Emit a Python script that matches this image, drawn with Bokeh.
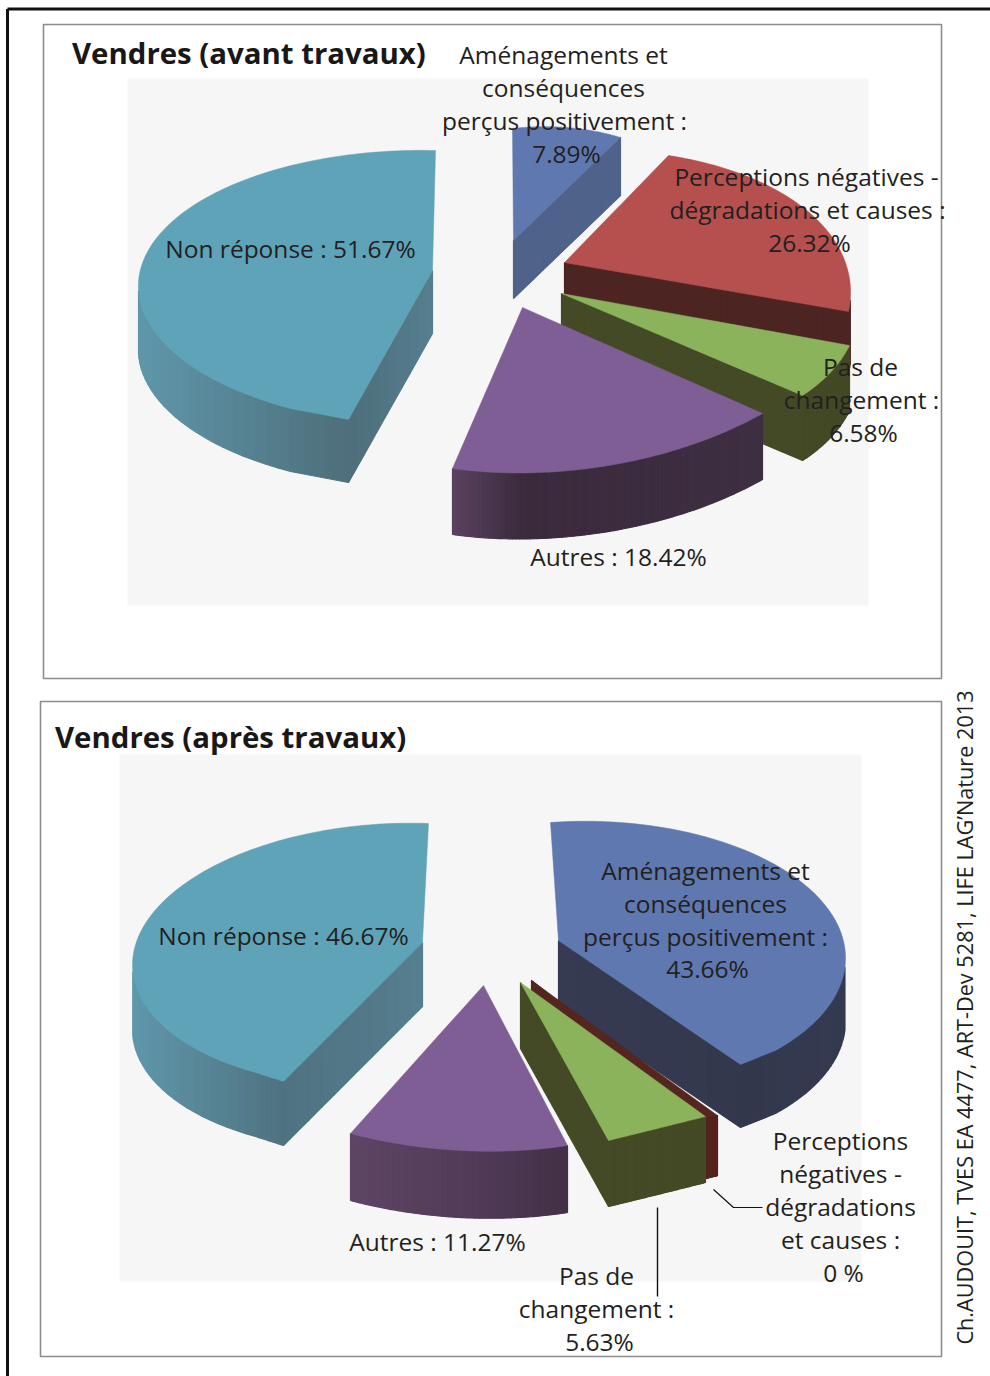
import numpy as np
from bokeh.plotting import figure
from bokeh.models import Range1d, ColumnDataSource
from bokeh.core.properties import value
from bokeh.embed import file_html
from bokeh.resources import INLINE

# ---- data -------------------------------------------------------------
categories = ["Aménagements", "Perceptions négatives", "Pas de changement", "Autres", "Non réponse"]
avant_values = [7.89, 26.32, 6.58, 18.42, 51.67]
apres_values = [43.66, 0.0, 5.63, 11.27, 46.67]
avant_title = "Vendres (avant travaux)"
apres_title = "Vendres (après travaux)"
credit = "Ch.AUDOUIT, TVES EA 4477, ART-Dev 5281, LIFE LAG’Nature 2013"

# ---- styles / layout --------------------------------------------------
FONT = "Open Sans"
TXT = "#231F20"
MIN_SWEEP_PCT = 0.45
TOP = ["#5F78AF", "#B5504E", "#8BB35B", "#7F5E96", "#5FA3B8"]
WALL_A = [("#4F6289", "#4F6289", "#4F6289"), ("#4C2522", "#4C2522", "#4C2522"),
          ("#434A25", "#434A25", "#434A25"), ("#5A4260", "#3A2A3C", "#3E2F42"),
          ("#5F97AA", "#4E6E7A", "#567F90")]
WALL_B = [("#363B52", "#33384D", "#343A50"), ("#54261F", "#54261F", "#54261F"),
          ("#454A26", "#454A26", "#454A26"), ("#5E4565", "#503A57", "#433046"),
          ("#5F97AA", "#4F7280", "#567F90")]
# placement of each slice on the page:
# apex, arc start, arc guide points, arc end, wall height, clip corner before arc, clip corner after arc
PLACE_A = [((513, 240), (512, 128), [(566, 127)], (620, 137), 58, None, None),
           ((564, 262), (668, 155), [(800, 205)], (848, 311), 62, None, None),
           ((561, 293), (849, 345), [(830, 372)], (802, 395), 65, None, None),
           ((522, 307), (762, 413), [(608, 465)], (452, 468), 66, None, None),
           ((348, 419), (290, 408), [(138, 290), (295, 164)], (435, 150), 63, None, (432, 270))]
PLACE_B = [((740, 1064), (550, 822), [(700, 835), (845, 958)], (775, 1050), 63, (558, 940), None),
           ((531, 980), (717, 1115), [], (705, 1118), 60, None, None),
           ((520, 982), (705, 1116), [(657, 1128)], (608, 1140), 66, None, None),
           ((483, 985), (567, 1145), [(460, 1150)], (350, 1133), 67, None, None),
           ((283, 1081), (255, 1072), [(132, 966), (295, 836)], (428, 823), 64, None, (422, 942))]
ARC_F = (0.27, 0.73)


def hex2rgb(c):
    return np.array([int(c[i:i + 2], 16) for i in (1, 3, 5)], float)


def mix(a, b, t):
    v = hex2rgb(a) * (1 - t) + hex2rgb(b) * t
    return "#%02X%02X%02X" % tuple(int(round(q)) for q in v)


def mapper(src, dst):
    if len(src) == 3:  # affine: apex + two rim points
        s = np.array(src, float)
        d = np.array(dst, float)
        M = np.linalg.solve((s[1:] - s[0]), (d[1:] - d[0]))
        return lambda pts: d[0] + (np.asarray(pts) - s[0]) @ M
    A, b = [], []
    for (x, y), (u, v) in zip(src, dst):
        A.append([x, y, 1, 0, 0, 0, -u * x, -u * y])
        A.append([0, 0, 0, x, y, 1, -v * x, -v * y])
        b += [u, v]
    h = np.append(np.linalg.solve(np.array(A, float), np.array(b, float)), 1).reshape(3, 3)

    def f(pts):
        pts = np.asarray(pts)
        q = np.c_[pts, np.ones(len(pts))] @ h.T
        return q[:, :2] / q[:, 2:]
    return f


def seg(a, b, n=12):
    tt = np.linspace(0, 1, n)[1:, None]
    return np.asarray(a, float) * (1 - tt) + np.asarray(b, float) * tt


def pie(values, place, walls):
    vis = [max(v, MIN_SWEEP_PCT) for v in values]
    cum = np.cumsum([0] + vis) / sum(vis) * 2 * np.pi
    for i, (apex, st, guides, en, depth, pre, post) in enumerate(place):
        a0, a1 = cum[i], cum[i + 1]
        rim = lambda a: (np.cos(a), np.sin(a))
        if len(guides) == 0:
            f = mapper([(0, 0), rim(a0), rim(a1)], [apex, st, en])
        elif len(guides) == 1:
            f = mapper([(0, 0), rim(a0), rim((a0 + a1) / 2), rim(a1)], [apex, st, guides[0], en])
        else:
            f = mapper([rim(a0), rim(a0 + (a1 - a0) * ARC_F[0]), rim(a0 + (a1 - a0) * ARC_F[1]), rim(a1)],
                       [st, guides[0], guides[1], en])
        th = np.linspace(a0, a1, 90)
        arc = f(np.c_[np.cos(th), np.sin(th)])
        pieces = [arc]
        last = arc[-1]
        if post is not None:
            pieces.append(seg(last, post, 3))
            last = np.array(post, float)
        pieces.append(seg(last, apex))
        first = np.array(pre if pre is not None else arc[0], float)
        pieces.append(seg(apex, first))
        if pre is not None:
            pieces.append(seg(first, arc[0], 3))
        out = np.vstack(pieces)
        x, y = out[:, 0], out[:, 1]
        area = np.sum(x[:-1] * y[1:] - x[1:] * y[:-1])
        sgn = np.sign(area) or 1
        xmin, xmax = x.min(), x.max()
        c0, c1, c2 = walls[i]
        sx, sy, sc = [], [], []
        for k in range(len(out) - 1):
            p, q = out[k], out[k + 1]
            dx, dy = q[0] - p[0], q[1] - p[1]
            ny = -dx * sgn  # outward normal, y pointing down on screen
            if ny <= 0 or abs(dx) < abs(dy) * 0.1:
                continue
            xm = (p[0] + q[0]) / 2
            if xm <= apex[0]:
                col = mix(c0, c1, (xm - xmin) / max(apex[0] - xmin, 1))
            else:
                col = mix(c1, c2, (xm - apex[0]) / max(xmax - apex[0], 1))
            sx.append([p[0], q[0], q[0], p[0]])
            sy.append([p[1], q[1], q[1] + depth, p[1] + depth])
            sc.append(col)
        p_ = ColumnDataSource(dict(xs=sx, ys=sy, c=sc))
        fig.patches("xs", "ys", fill_color="c", line_color="c", line_width=1.2, source=p_)
        top = TOP[i] if values[i] > 0 else walls[i][0]
        fig.patch(x, y, fill_color=top, line_color=top, line_width=0.5)


fig = figure(width=990, height=1376, output_backend="svg", toolbar_location=None,
             x_range=Range1d(0, 990), y_range=Range1d(1376, 0), min_border=0,
             outline_line_color=None, background_fill_color="white", border_fill_color="white")
fig.axis.visible = False
fig.grid.visible = False

# page border
fig.line([7, 7], [1376, 8.5], line_color="#111111", line_width=3)
fig.line([7, 990], [8.5, 8.5], line_color="#111111", line_width=3)
# panels
for (l, t, r, b), (il, it, ir, ib) in [((43, 24, 941, 678), (127, 78, 868, 605)),
                                       ((40, 701, 941, 1356), (119, 754, 861, 1281))]:
    fig.quad(left=[il], right=[ir], top=[it], bottom=[ib], fill_color="#F7F6F6", line_color=None)
    fig.quad(left=[l], right=[r], top=[t], bottom=[b], fill_color=None, line_color="#8C8C8C", line_width=1.6)

pie(avant_values, PLACE_A, WALL_A)
pie(apres_values, PLACE_B, WALL_B)

# leader lines
fig.line([657, 657], [1207, 1296], line_color="#111111", line_width=1.4)
fig.line([713, 733, 762], [1189, 1207, 1207], line_color="#111111", line_width=1.2)


def lab(lines, xs, ys, size=24.5):
    fig.text(xs, [v - 1 for v in ys], text=lines, text_font=value(FONT), text_font_size=f"{size}px", text_color=TXT,
             text_align="center", text_baseline="middle")


lab(["Aménagements et", "conséquences", "perçus positivement :", f"{avant_values[0]}%"],
    [563, 563, 564, 566], [55, 88, 121, 154])
lab(["Perceptions négatives -", "dégradations et causes :", f"{avant_values[1]}%"],
    [806, 807, 809], [177, 210, 243])
lab(["Pas de", "changement :", f"{avant_values[2]}%"], [860, 861, 863], [367, 400, 433])
lab([f"Autres : {avant_values[3]}%"], [618], [557])
lab([f"Non réponse : {avant_values[4]}%"], [290], [249])
lab([f"Non réponse : {apres_values[4]}%"], [283], [936])
lab(["Aménagements et", "conséquences", "perçus positivement :", f"{apres_values[0]}%"],
    [705, 705, 705, 707], [871, 904, 937, 969])
lab([f"Autres : {apres_values[3]}%"], [437], [1242])
lab(["Pas de", "changement :", f"{apres_values[2]}%"], [596, 596, 599], [1276, 1309, 1342])
lab(["Perceptions", "négatives -", "dégradations", "et causes :", "0 %"],
    [840, 840, 840, 840, 843], [1141, 1174, 1207, 1240, 1273])

fig.text([71.5, 54.5], [52, 736], text=[avant_title, apres_title], text_font=value(FONT), text_font_style="bold",
         text_font_size="29.4px", text_color="#1A1718", text_align="left", text_baseline="middle")
fig.text([964], [1017], text=[credit], text_font=value(FONT), text_font_size="21.7px", text_color=TXT,
         text_align="center", text_baseline="middle", angle=np.pi / 2)

open("out.html", "w").write(file_html(fig, INLINE))
